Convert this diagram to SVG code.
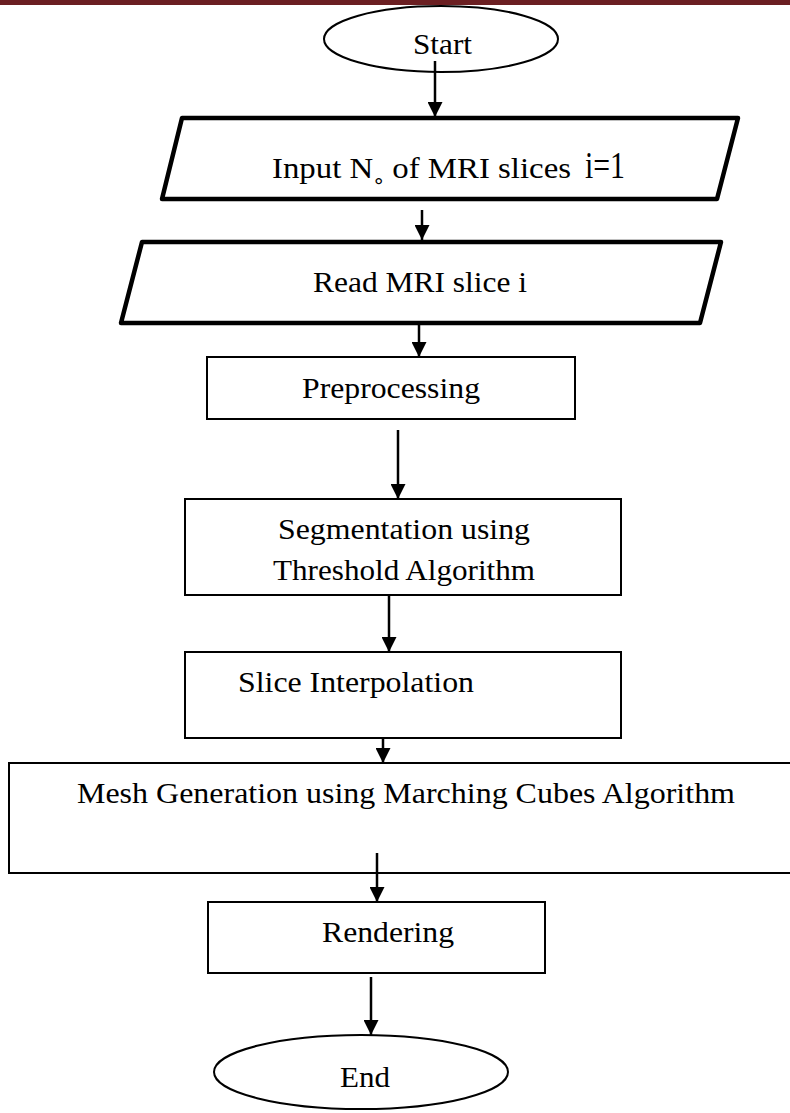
<svg xmlns="http://www.w3.org/2000/svg" width="790" height="1113" viewBox="0 0 790 1113">
<style>
.t{font-family:"Liberation Serif","Times New Roman",serif;font-size:29px;fill:#000}
.box{fill:#fff;stroke:#000;stroke-width:2}
.para{fill:#fff;stroke:#000;stroke-width:4.5;stroke-linejoin:round}
.term{fill:#fff;stroke:#000;stroke-width:2}
.c line{stroke:#000;stroke-width:2.5}
</style>
<defs>
<marker id="ah" viewBox="0 0 10 10" refX="10" refY="5" markerWidth="6" markerHeight="6" markerUnits="strokeWidth" orient="auto">
<path d="M0,0 L10,5 L0,10 Z" fill="#000"/>
</marker>
</defs>
<rect x="0" y="0" width="790" height="5" fill="#6b1f22"/>
<g id="start">
<ellipse class="term" cx="441" cy="39" rx="117" ry="33"/>
<text class="t" x="413" y="54" textLength="59" lengthAdjust="spacingAndGlyphs">Start</text>
</g>
<g id="input">
<polygon class="para" points="182,118 738,118 717,199 162,199"/>
<text class="t" x="272" y="178"><tspan textLength="299" lengthAdjust="spacingAndGlyphs">Input N˳ of MRI slices</tspan><tspan x="585" font-size="37" textLength="40" lengthAdjust="spacingAndGlyphs">i=1</tspan></text>
</g>
<g id="read">
<polygon class="para" points="142,242 721,242 700,323 121,323"/>
<text class="t" x="313" y="292" textLength="214" lengthAdjust="spacingAndGlyphs">Read MRI slice i</text>
</g>
<g id="preprocessing">
<rect class="box" x="207" y="357" width="368" height="62"/>
<text class="t" x="302" y="398" textLength="178" lengthAdjust="spacingAndGlyphs">Preprocessing</text>
</g>
<g id="segmentation">
<rect class="box" x="185" y="499" width="436" height="96"/>
<text class="t" x="278" y="539" textLength="252" lengthAdjust="spacingAndGlyphs">Segmentation using</text>
<text class="t" x="273" y="580" textLength="262" lengthAdjust="spacingAndGlyphs">Threshold Algorithm</text>
</g>
<g id="interpolation">
<rect class="box" x="185" y="652" width="436" height="86"/>
<text class="t" x="238" y="692" textLength="236" lengthAdjust="spacingAndGlyphs">Slice Interpolation</text>
</g>
<g id="mesh">
<rect class="box" x="9" y="763" width="800" height="110"/>
<text class="t" x="77" y="803" textLength="658" lengthAdjust="spacingAndGlyphs">Mesh Generation using Marching Cubes Algorithm</text>
</g>
<g id="rendering">
<rect class="box" x="208" y="902" width="337" height="71"/>
<text class="t" x="322" y="942" textLength="132" lengthAdjust="spacingAndGlyphs">Rendering</text>
</g>
<g id="end">
<ellipse class="term" cx="361" cy="1072" rx="147" ry="37"/>
<text class="t" x="340" y="1087" textLength="50" lengthAdjust="spacingAndGlyphs">End</text>
</g>
<g id="connectors" class="c">
<line x1="435" y1="61" x2="435" y2="117" marker-end="url(#ah)"/>
<line x1="422" y1="210" x2="422" y2="240" marker-end="url(#ah)"/>
<line x1="419" y1="325" x2="419" y2="357" marker-end="url(#ah)"/>
<line x1="398" y1="430" x2="398" y2="499" marker-end="url(#ah)"/>
<line x1="389" y1="595" x2="389" y2="652" marker-end="url(#ah)"/>
<line x1="383" y1="738" x2="383" y2="763" marker-end="url(#ah)"/>
<line x1="377" y1="853" x2="377" y2="902" marker-end="url(#ah)"/>
<line x1="371" y1="977" x2="371" y2="1035" marker-end="url(#ah)"/>
</g>
</svg>
